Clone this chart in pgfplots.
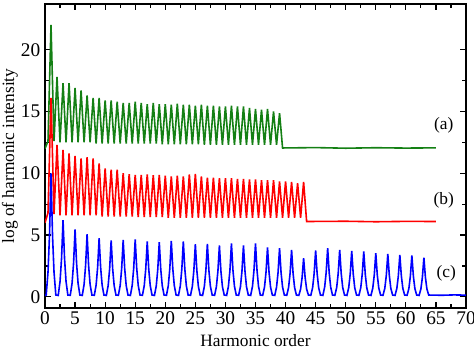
\documentclass[border=0pt]{standalone}
\usepackage{pgfplots}
\usepackage{pgfplotstable}
\pgfplotsset{compat=1.18}
\usetikzlibrary{calc}
\usepackage{fontspec}
\setmainfont{Liberation Serif}
\definecolor{cgreen}{RGB}{20,128,20}
\definecolor{cred}{RGB}{255,0,0}
\definecolor{cblue}{RGB}{0,0,255}

\pgfplotstableread{
x y
0 12.0
0.5 12.6
1 22.0
1.5 12.6
2 17.8
2.5 12.5
3 17.3
3.5 12.5
4 17.3
4.5 12.5
5 16.9
5.5 12.5
6 16.7
6.5 12.5
7 16.3
7.5 12.5
8 16.1
8.5 12.4
9 16.1
9.5 12.4
10 15.9
10.5 12.4
11 15.9
11.5 12.4
12 15.8
12.5 12.4
13 15.7
13.5 12.4
14 15.7
14.5 12.4
15 15.8
15.5 12.4
16 15.7
16.5 12.4
17 15.6
17.5 12.4
18 15.7
18.5 12.4
19 15.6
19.5 12.35
20 15.6
20.5 12.35
21 15.55
21.5 12.35
22 15.63
22.5 12.35
23 15.55
23.5 12.35
24 15.55
24.5 12.35
25 15.47
25.5 12.35
26 15.55
26.5 12.3
27 15.47
27.5 12.3
28 15.47
28.5 12.3
29 15.41
29.5 12.3
30 15.41
30.5 12.3
31 15.47
31.5 12.3
32 15.41
32.5 12.3
33 15.41
33.5 12.3
34 15.28
34.5 12.3
35 15.2
35.5 12.3
36 15.14
36.5 12.3
37 15.2
37.5 12.3
38 15.0
38.5 12.3
39 14.87
39.5 12.05
45 12.08
50 12.03
55 12.07
60 12.04
65 12.06
}\greendata

\pgfplotstableread{
x y
0 6.0
0.5 6.8
1 16.1
1.5 6.7
2 12.3
2.5 6.6
3 11.9
3.5 6.6
4 11.6
4.5 6.6
5 11.4
5.5 6.6
6 11.2
6.5 6.6
7 11.3
7.5 6.6
8 11.2
8.5 6.6
9 10.8
9.5 6.5
10 10.4
10.5 6.5
11 10.3
11.5 6.5
12 10.3
12.5 6.5
13 10.0
13.5 6.5
14 9.93
14.5 6.5
15 9.87
15.5 6.45
16 9.87
16.5 6.45
17 9.9
17.5 6.45
18 9.85
18.5 6.45
19 9.87
19.5 6.45
20 9.8
20.5 6.4
21 9.75
21.5 6.4
22 9.8
22.5 6.4
23 9.75
23.5 6.4
24 9.9
24.5 6.4
25 9.95
25.5 6.4
26 9.75
26.5 6.4
27 9.65
27.5 6.4
28 9.65
28.5 6.4
29 9.6
29.5 6.4
30 9.6
30.5 6.4
31 9.6
31.5 6.4
32 9.55
32.5 6.4
33 9.55
33.5 6.4
34 9.5
34.5 6.4
35 9.5
35.5 6.4
36 9.45
36.5 6.4
37 9.45
37.5 6.4
38 9.45
38.5 6.4
39 9.35
39.5 6.4
40 9.35
40.5 6.4
41 9.3
41.5 6.4
42 9.2
42.5 6.4
43 9.3
43.5 6.1
50 6.12
55 6.08
60 6.11
65 6.1
}\reddata

\pgfplotstableread{
x y
0 0.12
0.2 0.15
0.5 2.0
0.75 5.0
1 10.0
1.25 5.0
1.5 2.0
1.8 0.15
2.2 0.12
2.5 1.24
2.75 3.1
3 6.2
3.25 3.1
3.5 1.24
3.8 0.15
4.2 0.13
4.5 1.09
4.75 2.72
5 5.45
5.25 2.72
5.5 1.09
5.8 0.15
6.2 0.12
6.5 1.01
6.75 2.54
7 5.07
7.25 2.54
7.5 1.01
7.8 0.15
8.2 0.13
8.5 0.95
8.75 2.38
9 4.75
9.25 2.38
9.5 0.95
9.8 0.15
10.2 0.12
10.5 0.91
10.75 2.28
11 4.56
11.25 2.28
11.5 0.91
11.8 0.15
12.2 0.13
12.5 0.92
12.75 2.3
13 4.6
13.25 2.3
13.5 0.92
13.8 0.15
14.2 0.12
14.5 0.93
14.75 2.32
15 4.64
15.25 2.32
15.5 0.93
15.8 0.15
16.2 0.13
16.5 0.90
16.75 2.24
17 4.48
17.25 2.24
17.5 0.90
17.8 0.15
18.2 0.12
18.5 0.89
18.75 2.22
19 4.43
19.25 2.22
19.5 0.89
19.8 0.15
20.2 0.13
20.5 0.91
20.75 2.27
21 4.53
21.25 2.27
21.5 0.91
21.8 0.15
22.2 0.12
22.5 0.90
22.75 2.24
23 4.48
23.25 2.24
23.5 0.90
23.8 0.15
24.2 0.13
24.5 0.85
24.75 2.13
25 4.26
25.25 2.13
25.5 0.85
25.8 0.15
26.2 0.12
26.5 0.86
26.75 2.15
27 4.29
27.25 2.15
27.5 0.86
27.8 0.15
28.2 0.13
28.5 0.83
28.75 2.08
29 4.16
29.25 2.08
29.5 0.83
29.8 0.15
30.2 0.12
30.5 0.86
30.75 2.16
31 4.32
31.25 2.16
31.5 0.86
31.8 0.15
32.2 0.13
32.5 0.83
32.75 2.08
33 4.16
33.25 2.08
33.5 0.83
33.8 0.15
34.2 0.12
34.5 0.86
34.75 2.16
35 4.32
35.25 2.16
35.5 0.86
35.8 0.15
36.2 0.13
36.5 0.80
36.75 2.0
37 4.0
37.25 2.0
37.5 0.80
37.8 0.15
38.2 0.12
38.5 0.79
38.75 1.97
39 3.94
39.25 1.97
39.5 0.79
39.8 0.15
40.2 0.13
40.5 0.76
40.75 1.9
41 3.8
41.25 1.9
41.5 0.76
41.8 0.15
42.2 0.12
42.5 0.63
42.75 1.57
43 3.13
43.25 1.57
43.5 0.63
43.8 0.15
44.2 0.13
44.5 0.75
44.75 1.88
45 3.75
45.25 1.88
45.5 0.75
45.8 0.15
46.2 0.12
46.5 0.79
46.75 1.97
47 3.94
47.25 1.97
47.5 0.79
47.8 0.15
48.2 0.13
48.5 0.76
48.75 1.9
49 3.8
49.25 1.9
49.5 0.76
49.8 0.15
50.2 0.12
50.5 0.74
50.75 1.86
51 3.72
51.25 1.86
51.5 0.74
51.8 0.15
52.2 0.13
52.5 0.73
52.75 1.84
53 3.67
53.25 1.84
53.5 0.73
53.8 0.15
54.2 0.12
54.5 0.71
54.75 1.77
55 3.54
55.25 1.77
55.5 0.71
55.8 0.15
56.2 0.13
56.5 0.69
56.75 1.74
57 3.47
57.25 1.74
57.5 0.69
57.8 0.15
58.2 0.12
58.5 0.68
58.75 1.7
59 3.4
59.25 1.7
59.5 0.68
59.8 0.15
60.2 0.13
60.5 0.67
60.75 1.68
61 3.35
61.25 1.68
61.5 0.67
61.8 0.15
62.2 0.12
62.5 0.64
62.75 1.59
63 3.18
63.25 1.59
63.5 0.64
63.8 0.15
66 0.13
68 0.16
70 0.14
}\bluedata

\begin{document}
\begin{tikzpicture}
\begin{axis}[
  scale only axis,
  width=315.75pt, height=228pt,
  xmin=0, xmax=70, ymin=-0.9, ymax=23.7,
  xtick={0,5,...,70},
  ytick={0,5,10,15,20},
  minor x tick num=1,
  minor y tick num=1,
  tick align=inside,
  major tick length=4.5pt,
  minor tick length=3pt,
  axis line style={line width=1pt},
  every tick/.style={line width=0.9pt, black},
  tick label style={font=\fontsize{14.5}{16}\selectfont},
  xticklabel style={yshift=1pt},
  /pgf/number format/assume math mode=true,
  xlabel={Harmonic order},
  ylabel={log of harmonic intensity},
  label style={font=\fontsize{13}{15}\selectfont},
  xlabel style={yshift=-1pt},
  ylabel style={yshift=-4.5pt},
  clip=true,
]
\addplot[color=cgreen, line width=1.2pt] table[x=x,y=y] {\greendata};
\addplot[color=cred, line width=1.2pt] table[x=x,y=y] {\reddata};
\addplot[color=cblue, line width=1.2pt] table[x=x,y=y] {\bluedata};
\node[font=\fontsize{13}{15}\selectfont] at (axis cs:66.3,13.9) {(a)};
\node[font=\fontsize{13}{15}\selectfont] at (axis cs:66.3,7.85) {(b)};
\node[font=\fontsize{13}{15}\selectfont] at (axis cs:66.7,1.94) {(c)};
\end{axis}
\pgfresetboundingbox
\path ($(current axis.south west)+(-33.75pt,-31.5pt)$) rectangle ($(current axis.north east)+(6pt,3pt)$);
\end{tikzpicture}
\end{document}
